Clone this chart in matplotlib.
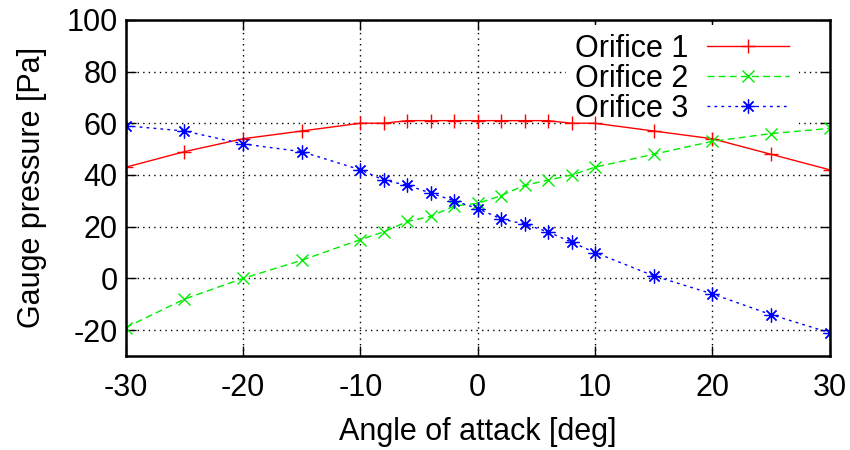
import numpy as np
import matplotlib
matplotlib.use('Agg')
import matplotlib.pyplot as plt

plt.rcParams['font.family'] = ['Liberation Sans', 'DejaVu Sans']
plt.rcParams['axes.unicode_minus'] = False

angle = [-30, -25, -20, -15, -10, -8, -6, -4, -2, 0, 2, 4, 6, 8, 10, 15, 20, 25, 30]
orifice1 = [43, 49, 54, 57, 60, 60, 61, 61, 61, 61, 61, 61, 61, 60, 60, 57, 54, 48, 42]
orifice2 = [-19, -8, 0, 7, 15, 18, 22, 24, 28, 29, 32, 36, 38, 40, 43, 48, 53, 56, 58]
orifice3 = [59, 57, 52, 49, 42, 38, 36, 33, 30, 27, 23, 21, 18, 14, 10, 1, -6, -14, -21]

fig = plt.figure(figsize=(8.5, 4.5), dpi=100)
ax = fig.add_axes([0.148, 0.209, 0.828, 0.747])

ax.plot(angle, orifice1, color='#ff0000', lw=1, ls='-', marker='+', ms=10, mew=1,
        label='Orifice 1')
ax.plot(angle, orifice2, color='#00ee00', lw=1, ls=(0, (5, 3)), marker='x', ms=8, mew=1,
        label='Orifice 2')
ax.plot(angle, orifice3, color='#0000ff', lw=1, ls=(0, (2, 3)), marker=(8, 2, 0), ms=10, mew=0.9,
        label='Orifice 3')

ax.set_xlim(-30, 30)
ax.set_ylim(-30, 100)
ax.set_xticks(range(-30, 31, 10))
ax.set_yticks(range(-20, 101, 20))
ax.grid(True, color='black', ls=(0, (1, 3)), lw=1)
ax.tick_params(direction='in', top=True, right=True, length=7, width=1, labelsize=22)
ax.tick_params(axis='y', pad=6)
ax.tick_params(axis='x', pad=12)
for s in ax.spines.values():
    s.set_linewidth(1.8)

ax.set_xlabel('Angle of attack [deg]', fontsize=22, labelpad=10)
ax.set_ylabel('Gauge pressure [Pa]', fontsize=22, labelpad=14)

# legend covers the grid but sits under the data, like gnuplot's key
leg = ax.legend(loc='upper right', bbox_to_anchor=(0.956, 0.985), markerfirst=False,
                frameon=True, fontsize=22, handlelength=2.7, handletextpad=0.6,
                labelspacing=0.0, borderaxespad=0, borderpad=0.3, fancybox=False)
leg.get_frame().set_edgecolor('none')
leg.get_frame().set_facecolor('white')
leg.get_frame().set_alpha(1)
leg.set_zorder(1.8)

fig.savefig('out.png', dpi=100)
